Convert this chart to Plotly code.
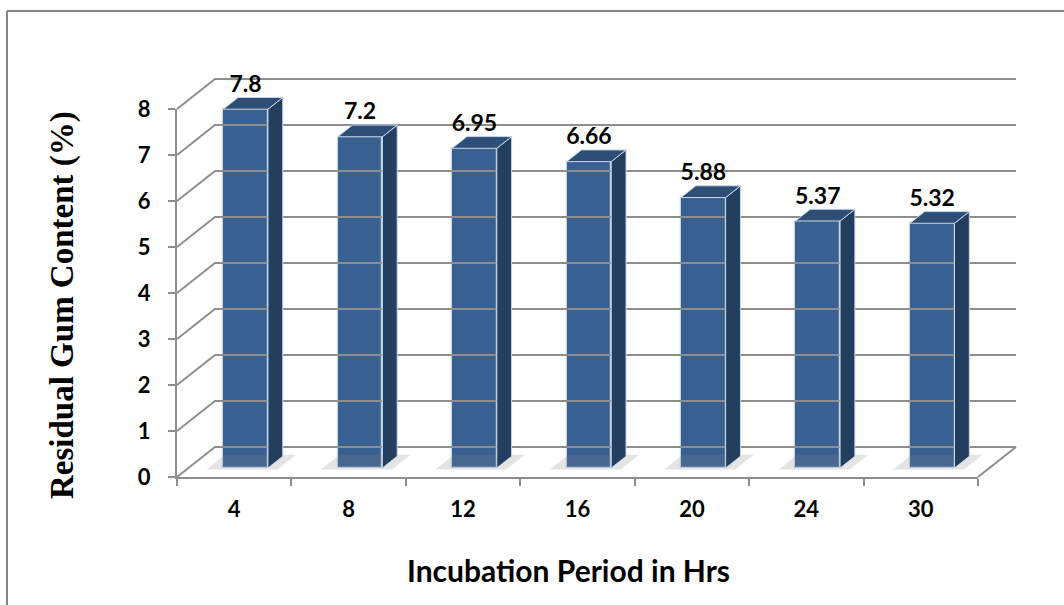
import plotly.graph_objects as go

# ---- data ----
categories = ["4", "8", "12", "16", "20", "24", "30"]
values = [7.8, 7.2, 6.95, 6.66, 5.88, 5.37, 5.32]
y_ticks = [0, 1, 2, 3, 4, 5, 6, 7, 8]
x_title = "Incubation Period in Hrs"
y_title = "Residual Gum Content (%)"

# ---- layout geometry (pixels) ----
W, H = 1064, 605
OX, OY = 177, 477            # front-left corner of floor
PX_U = (978 - 177) / 7       # px per category
PX_V = (477 - 109) / 8       # px per value unit
DX = 38 / PX_U               # full depth offset in category units
DY = 30 / PX_V               # full depth offset in value units
D_FRONT, D_BACK = 0.30, 0.69
BAR_W = 0.39
N = len(categories)
VMAX = max(y_ticks)

FRONT = "#386192"
SIDE = "#233E5E"
TOP = "#2D4E76"
EDGE = "#C9D6E8"
GRID = "#8E8E8E"


def P(u, v, d):
    return u + d * DX, v + d * DY


fig = go.Figure()

# floor shadows
sx, sy = [], []
for i, v in enumerate(values):
    c = i + 0.5
    xl, xr = c - BAR_W / 2 - 0.13, c + BAR_W / 2 + 0.1
    for (u, d) in [(xl, D_FRONT - 0.05), (xr, D_FRONT - 0.05), (xr, D_BACK + 0.05), (xl, D_BACK + 0.05), (xl, D_FRONT - 0.05)]:
        px, py = P(u, 0, d)
        sx.append(px); sy.append(py)
    sx.append(None); sy.append(None)
fig.add_trace(go.Scatter(x=sx, y=sy, mode="lines", fill="toself", fillcolor="rgba(130,130,130,0.22)",
                         line=dict(width=0), hoverinfo="skip", showlegend=False))

# back wall + left wall gridlines
gx, gy = [], []
for t in y_ticks:
    for (u, d) in [(0, 0), (0, 1), (N, 1)]:
        px, py = P(u, t, d)
        gx.append(px); gy.append(py)
    gx.append(None); gy.append(None)
# right floor edge
for (u, d) in [(N, 0), (N, 1)]:
    px, py = P(u, 0, d)
    gx.append(px); gy.append(py)
fig.add_trace(go.Scatter(x=gx, y=gy, mode="lines", line=dict(color=GRID, width=2),
                         hoverinfo="skip", showlegend=False))

# bar front faces
centers = [i + 0.5 + D_FRONT * DX for i in range(N)]
fig.add_trace(go.Bar(x=centers, y=values, base=D_FRONT * DY, width=BAR_W,
                     marker=dict(color=FRONT, line=dict(color=EDGE, width=1.2)),
                     showlegend=False, hoverinfo="skip"))

# side and top faces
side_x, side_y, top_x, top_y = [], [], [], []
for i, v in enumerate(values):
    c = i + 0.5
    xl, xr = c - BAR_W / 2, c + BAR_W / 2
    for (u, vv, d) in [(xr, 0, D_FRONT), (xr, 0, D_BACK), (xr, v, D_BACK), (xr, v, D_FRONT), (xr, 0, D_FRONT)]:
        px, py = P(u, vv, d)
        side_x.append(px); side_y.append(py)
    side_x.append(None); side_y.append(None)
    for (u, d) in [(xl, D_FRONT), (xr, D_FRONT), (xr, D_BACK), (xl, D_BACK), (xl, D_FRONT)]:
        px, py = P(u, v, d)
        top_x.append(px); top_y.append(py)
    top_x.append(None); top_y.append(None)
fig.add_trace(go.Scatter(x=side_x, y=side_y, mode="lines", fill="toself", fillcolor=SIDE,
                         line=dict(color=EDGE, width=1), hoverinfo="skip", showlegend=False))
fig.add_trace(go.Scatter(x=top_x, y=top_y, mode="lines", fill="toself", fillcolor=TOP,
                         line=dict(color=EDGE, width=1), hoverinfo="skip", showlegend=False))

# value labels
lab_x = centers
lab_y = [v + D_BACK * DY for v in values]
fig.add_trace(go.Scatter(x=lab_x, y=lab_y, mode="text", text=[f"{v:g}" for v in values],
                         textposition="top center",
                         textfont=dict(family="Lato", size=23, color="#000000", weight="bold"),
                         hoverinfo="skip", showlegend=False, cliponaxis=False))

# invisible trace to create the front axes
fig.add_trace(go.Scatter(x=categories, y=[None] * N, xaxis="x2", yaxis="y2",
                         mode="markers", showlegend=False, hoverinfo="skip"))

fig.update_layout(
    width=W, height=H,
    margin=dict(l=0, r=0, t=0, b=0, pad=0, autoexpand=False),
    paper_bgcolor="white", plot_bgcolor="rgba(0,0,0,0)",
    bargap=0, showlegend=False,
    xaxis=dict(range=[-OX / PX_U, (W - OX) / PX_U], visible=False, domain=[0, 1],
               fixedrange=True, automargin=False),
    yaxis=dict(range=[(OY - H) / PX_V, OY / PX_V], visible=False, domain=[0, 1],
               fixedrange=True, automargin=False),
    xaxis2=dict(type="category", categoryorder="array", categoryarray=categories,
                domain=[OX / W, (OX + N * PX_U) / W], anchor="y2", range=[-0.5, N - 0.5],
                showline=True, linecolor=GRID, linewidth=2, ticks="outside", tickson="boundaries",
                ticklen=7, tickcolor=GRID, tickwidth=2, showgrid=False, zeroline=False,
                ticklabelstandoff=12, automargin=False, fixedrange=True,
                tickfont=dict(family="Lato", size=22, color="#000000", weight="bold")),
    yaxis2=dict(domain=[(H - OY) / H, (H - OY + VMAX * PX_V) / H], anchor="x2", range=[0, VMAX],
                tickvals=y_ticks, showline=True, linecolor=GRID, linewidth=2, ticks="outside",
                ticklen=7, tickcolor=GRID, tickwidth=2, showgrid=False, zeroline=False,
                ticklabelstandoff=13, automargin=False, fixedrange=True,
                tickfont=dict(family="Lato", size=22, color="#000000", weight="bold")),
    annotations=[
        dict(text=x_title, xref="paper", yref="paper", x=568 / W, y=(H - 570) / H,
             showarrow=False, xanchor="center", yanchor="middle",
             font=dict(family="Lato", size=30, color="#000000", weight="bold")),
        dict(text=y_title, xref="paper", yref="paper", x=62 / W, y=(H - 305) / H,
             showarrow=False, xanchor="center", yanchor="middle", textangle=-90,
             font=dict(family="Liberation Serif", size=33, color="#000000", weight="bold")),
    ],
    shapes=[
        dict(type="line", xref="paper", yref="paper", x0=7 / W, x1=1.0, y0=(H - 11) / H, y1=(H - 11) / H,
             line=dict(color="#868686", width=2)),
        dict(type="line", xref="paper", yref="paper", x0=7 / W, x1=7 / W, y0=0, y1=(H - 11) / H,
             line=dict(color="#868686", width=2)),
    ],
)

fig.write_html("out.html", config={"displayModeBar": False},
               post_script="document.body.style.margin='0px';document.body.style.padding='0px';")
